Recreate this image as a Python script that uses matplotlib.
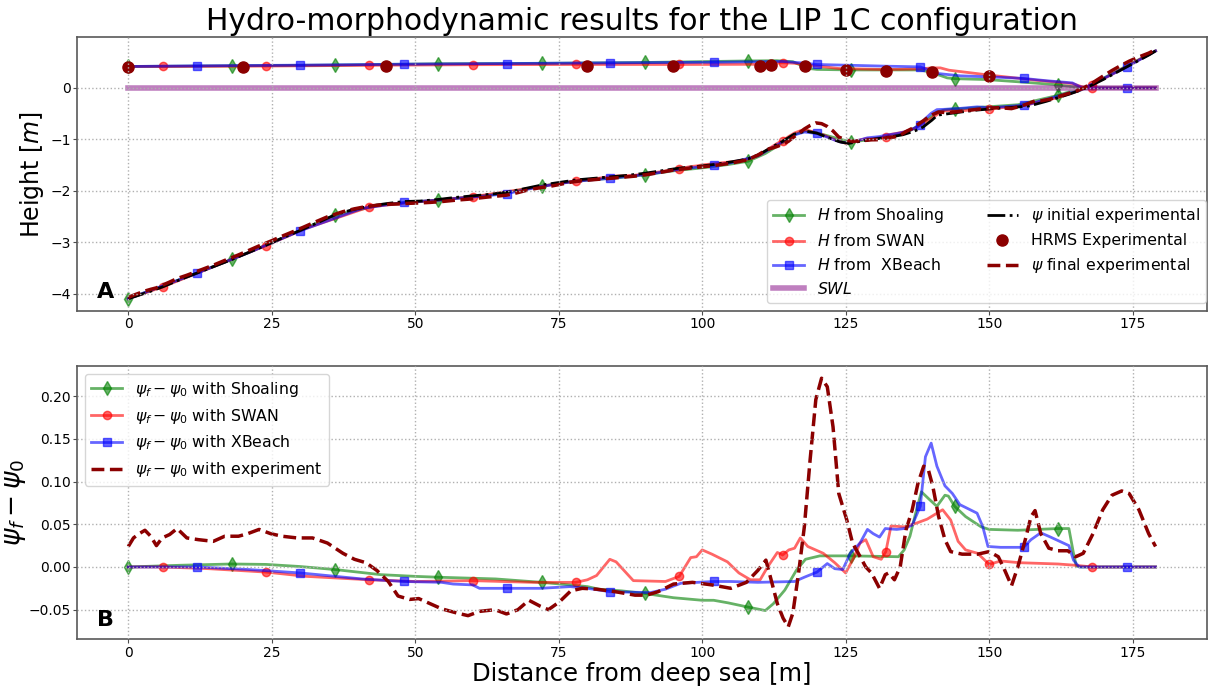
import numpy as np
import matplotlib
matplotlib.use("Agg")
import matplotlib.pyplot as plt

# ---------------- data ----------------
# initial experimental bed profile psi_0 (m)
x_psi0 = [0, 3, 6, 9, 12, 15, 18, 21, 24, 27, 30, 33, 36, 39, 42, 45, 48, 51, 54, 57, 60,
          63, 66, 69, 72, 75, 78, 81, 84, 87, 90, 93, 96, 99, 102, 105, 108, 110, 112, 114,
          116, 118, 120, 122, 124, 125.5, 127, 129, 131, 133, 135, 137, 138.5, 140, 141,
          143, 145, 148, 151, 154, 157, 160, 162, 164, 166, 168, 170, 172, 174, 176, 178, 179]
psi0 = [-4.10, -3.99, -3.87, -3.73, -3.60, -3.47, -3.34, -3.20, -3.06, -2.91, -2.77, -2.62,
        -2.47, -2.37, -2.30, -2.25, -2.21, -2.20, -2.17, -2.13, -2.10, -2.07, -2.03, -1.96,
        -1.89, -1.84, -1.79, -1.76, -1.73, -1.70, -1.66, -1.61, -1.56, -1.53, -1.49, -1.44,
        -1.38, -1.29, -1.16, -1.04, -0.90, -0.84, -0.88, -0.97, -1.05, -1.08, -1.05, -1.01,
        -0.98, -0.95, -0.91, -0.84, -0.76, -0.63, -0.53, -0.50, -0.47, -0.43, -0.40, -0.38,
        -0.35, -0.26, -0.19, -0.12, -0.04, 0.06, 0.17, 0.29, 0.41, 0.53, 0.65, 0.72]

# psi_f - psi_0 : experiment
x_exp = [0, 0.9, 1.9, 2.9, 3.9, 4.9, 5.9, 7.2, 8.5, 10.2, 12.2, 14.8, 16.8, 19.2, 20.8, 22.8,
         24.8, 26.8, 29.4, 32.1, 34.7, 37.4, 39.4, 41.4, 43.3, 45.3, 47.0, 49.0, 50.6, 52.6,
         54.6, 57.3, 59.2, 61.2, 63.9, 65.9, 67.9, 69.8, 71.8, 73.2, 75.1, 77.1, 79.1, 81.6,
         84.9, 88.3, 90.3, 92.3, 95.0, 98.3, 101.7, 105.0, 107.7, 109.7, 111.1, 111.7, 113.1,
         114.1, 115.0, 115.8, 116.8, 117.8, 118.8, 119.8, 120.8, 121.8, 122.8, 123.8, 125.2,
         126.2, 127.2, 128.5, 129.5, 130.9, 131.9, 132.5, 133.5, 134.5, 135.5, 136.6, 137.6,
         138.6, 139.4, 140.2, 141.2, 142.3, 143.3, 145.3, 148.0, 150.0, 151.6, 152.6, 153.9,
         155.0, 156.3, 157.3, 158.0, 159.0, 160.4, 162.0, 163.7, 165.1, 166.4, 168.1, 169.8,
         171.4, 173.1, 174.4, 176.1, 177.8, 179.0]
d_exp = [0.024, 0.034, 0.039, 0.043, 0.036, 0.025, 0.034, 0.038, 0.045, 0.034, 0.032, 0.030,
         0.036, 0.036, 0.039, 0.044, 0.039, 0.036, 0.034, 0.034, 0.028, 0.016, 0.009, 0.005,
         -0.004, -0.017, -0.034, -0.038, -0.037, -0.043, -0.049, -0.054, -0.057, -0.052,
         -0.050, -0.055, -0.050, -0.039, -0.046, -0.050, -0.041, -0.028, -0.025, -0.026,
         -0.029, -0.033, -0.033, -0.029, -0.020, -0.018, -0.021, -0.025, -0.018, -0.004,
         0.008, -0.007, -0.043, -0.060, -0.070, -0.054, -0.007, 0.047, 0.125, 0.196, 0.221,
         0.211, 0.164, 0.086, 0.055, 0.028, 0.016, 0.000, -0.007, -0.025, -0.009, -0.007,
         -0.015, 0.000, 0.043, 0.067, 0.098, 0.118, 0.114, 0.094, 0.059, 0.032, 0.018, 0.015,
         0.015, 0.018, 0.012, -0.002, -0.022, 0.000, 0.032, 0.059, 0.066, 0.039, 0.022,
         0.019, 0.019, 0.012, 0.016, 0.039, 0.067, 0.084, 0.089, 0.086, 0.067, 0.039, 0.024]

# psi_f - psi_0 : Shoaling
x_sho = [0, 9, 18, 24, 30, 36, 44, 50, 54, 64, 72, 77, 80, 82, 86, 90, 95, 100, 102, 104.5,
         108, 111, 112.4, 114.4, 116.4, 118, 120.5, 126, 134.2, 135.2, 136.2, 137.2, 138.2,
         139.6, 140.9, 142.3, 142.9, 144, 145.9, 148.6, 150, 155, 162, 163.9, 164.7, 165.2,
         166, 179]
d_sho = [0, 0.002, 0.0035, 0.003, 0.0005, -0.003, -0.009, -0.011, -0.012, -0.014, -0.018,
         -0.021, -0.023, -0.026, -0.028, -0.031, -0.036, -0.039, -0.039, -0.042, -0.047,
         -0.051, -0.043, -0.027, -0.004, 0.009, 0.013, 0.013, 0.012, 0.020, 0.036, 0.063,
         0.088, 0.079, 0.071, 0.084, 0.083, 0.071, 0.059, 0.047, 0.044, 0.043, 0.045, 0.045,
         0.016, 0.001, 0, 0]

# psi_f - psi_0 : SWAN
x_swan = [0, 6, 14, 24, 31, 42, 50, 60, 70.5, 78, 80, 81.6, 83.9, 85, 88, 93.6, 96, 98, 99,
          100, 101.7, 104.4, 106.4, 108.4, 110.1, 111.4, 113.1, 114, 115.1, 116.1, 117.1,
          118.4, 121.1, 123.1, 125, 126.5, 127.5, 128.5, 129.8, 131.2, 132, 132.9, 135.2,
          137.2, 139.2, 141.9, 143.3, 144.6, 145.9, 148, 150, 152, 155.3, 162, 165, 168, 179]
d_swan = [0, 0, -0.002, -0.006, -0.011, -0.015, -0.017, -0.016, -0.018, -0.018, -0.015,
          -0.010, 0.009, 0.006, -0.016, -0.017, -0.011, 0.011, 0.012, 0.020, 0.015, 0.006,
          -0.007, -0.015, -0.015, 0.000, 0.017, 0.014, 0.020, 0.022, 0.034, 0.024, 0.016,
          0.005, -0.007, 0.012, 0.028, 0.032, 0.012, 0.009, 0.018, 0.048, 0.047, 0.051,
          0.056, 0.067, 0.055, 0.030, 0.020, 0.016, 0.003, 0.007, 0.005, 0.0035, 0.002, 0, 0]

# psi_f - psi_0 : XBeach
x_xb = [0, 12, 21, 30, 40.7, 48, 54.6, 56.6, 60, 61.2, 66, 71.8, 77, 80, 84, 91, 93.6, 96.3,
        102, 105, 109.7, 116.1, 117.8, 120, 121.8, 123.1, 124.5, 125.8, 127.5, 128.8, 129.8,
        130.9, 131.9, 133.9, 135.2, 136.6, 138, 138.9, 139.9, 140.9, 142.3, 143.6, 144.9,
        147.9, 148.9, 149.8, 152, 156, 157.3, 159, 160.7, 163.9, 164.7, 165.7, 174, 179]
d_xb = [0, 0, -0.003, -0.007, -0.014, -0.017, -0.018, -0.020, -0.021, -0.025, -0.025,
        -0.025, -0.023, -0.025, -0.029, -0.030, -0.026, -0.019, -0.017, -0.017, -0.018,
        -0.017, -0.012, -0.006, 0.004, -0.002, -0.003, 0.016, 0.028, 0.044, 0.039, 0.035,
        0.045, 0.044, 0.045, 0.049, 0.071, 0.129, 0.145, 0.118, 0.095, 0.086, 0.073, 0.063,
        0.047, 0.024, 0.023, 0.023, 0.032, 0.040, 0.035, 0.025, 0.008, 0, 0, 0]

# wave heights H (m)
xH_sho = [0, 18, 36, 54, 72, 90, 108, 113, 115.8, 118.5, 120, 126, 138, 140, 142.7, 144,
          149.6, 155, 162, 166.2, 179]
H_sho = [0.417, 0.43, 0.445, 0.47, 0.478, 0.495, 0.525, 0.53, 0.51, 0.38, 0.36, 0.35,
         0.35, 0.30, 0.195, 0.18, 0.163, 0.12, 0.06, 0.0, 0.0]
xH_swan = [0, 6, 24, 42, 60, 78, 96, 110, 114, 116, 119, 123.8, 132, 138, 140, 141.5, 143,
           150, 158.2, 164.5, 166.8, 168, 179]
H_swan = [0.417, 0.417, 0.425, 0.44, 0.452, 0.456, 0.456, 0.46, 0.49, 0.48, 0.44, 0.378,
          0.358, 0.37, 0.39, 0.39, 0.345, 0.25, 0.15, 0.085, 0.0, 0.0, 0.0]
xH_xb = [0, 12, 30, 48, 66, 84, 102, 110, 114, 117, 120, 126, 132, 138, 141.1, 145, 150,
         156, 160, 164.5, 166.2, 174, 179]
H_xb = [0.417, 0.43, 0.443, 0.462, 0.475, 0.488, 0.50, 0.51, 0.515, 0.49, 0.456, 0.44,
        0.423, 0.41, 0.28, 0.235, 0.215, 0.185, 0.14, 0.098, 0.0, 0.0, 0.0]

# HRMS experimental
x_hrms = [0, 20, 44.9, 80, 95, 110, 112, 118, 125, 132, 140, 150]
H_hrms = [0.41, 0.41, 0.43, 0.436, 0.43, 0.42, 0.45, 0.43, 0.345, 0.33, 0.31, 0.23]

x_swl = [0, 179]
swl = [0, 0]

marks_sho = [0, 18, 36, 54, 72, 90, 108, 126, 144, 162]
marks_swan = [6, 24, 42, 60, 78, 96, 114, 132, 150, 168]
marks_xb = [12, 30, 48, 66, 84, 102, 120, 138, 156, 174]

# ---------------- plot ----------------
fig = plt.figure(figsize=(12.08, 6.91), dpi=100)
axA = fig.add_axes([0.0637, 0.5499, 0.9354, 0.3965])
axB = fig.add_axes([0.0637, 0.0748, 0.9354, 0.3960])

def mask(x, m):
    return list(np.isin(np.round(np.asarray(x, float), 3), m))

def bed(x, d):
    x = np.asarray(x, float)
    return np.interp(x, x_psi0, psi0) + np.asarray(d)

models = [
    ("g", "d", 7, x_sho, d_sho, xH_sho, H_sho, marks_sho, "Shoaling"),
    ("r", "o", 6, x_swan, d_swan, xH_swan, H_swan, marks_swan, "SWAN"),
    ("b", "s", 6, x_xb, d_xb, xH_xb, H_xb, marks_xb, " XBeach"),
]

handles = []
for c, m, ms, xd, dd, xh, hh, mk, name in models:
    h, = axA.plot(xh, hh, color=c, marker=m, ms=ms, lw=2, alpha=0.6,
                  markevery=mask(xh, mk), label=r"$H$ from " + name)
    axA.plot(xd, bed(xd, dd), color=c, marker=m, ms=ms, lw=2, alpha=0.6,
             markevery=mask(xd, mk))
    handles.append(h)

hs, = axA.plot(x_swl, swl, color="purple", lw=4, alpha=0.5, label=r"$SWL$")
handles.append(hs)
hi, = axA.plot(x_psi0, psi0, "k-.", lw=2, label=r"$\psi$ initial experimental")
hh_, = axA.plot(x_hrms, H_hrms, "o", color="darkred", ms=8, label="HRMS Experimental")
hf, = axA.plot(x_exp, bed(x_exp, d_exp), "--", color="darkred", lw=2.5,
               label=r"$\psi$ final experimental")
handles += [hi, hh_, hf]

axA.set_ylim(-4.34, 0.99)
axA.set_ylabel(r"Height [$m$]", fontsize=17)
axA.yaxis.set_label_coords(-0.027, 0.5)
axA.set_title("Hydro-morphodynamic results for the LIP 1C configuration",
              fontsize=21.5, pad=5)
axA.legend(handles=handles, ncol=2, loc="lower right", fontsize=11.3,
           columnspacing=2.7, bbox_to_anchor=(1.006, 0.0))
axA.text(0.0174, 0.047, "A", transform=axA.transAxes, fontsize=16, fontweight="bold")

# panel B
for c, m, ms, xd, dd, xh, hh, mk, name in models:
    axB.plot(xd, dd, color=c, marker=m, ms=ms, lw=2, alpha=0.6,
             markevery=mask(xd, mk),
             label=r"$\psi_f - \psi_0$ with " + name.strip())
axB.plot(x_exp, d_exp, "--", color="darkred", lw=2.5,
         label=r"$\psi_f - \psi_0$ with experiment")
axB.set_ylim(-0.0847, 0.2357)
axB.set_ylabel(r"$\psi_f - \psi_0$", fontsize=19)
axB.yaxis.set_label_coords(-0.043, 0.5)
axB.set_xlabel("Distance from deep sea [m]", fontsize=17.5, labelpad=2)
axB.legend(loc="upper left", fontsize=11.3)
axB.text(0.0174, 0.047, "B", transform=axB.transAxes, fontsize=16, fontweight="bold")

for ax in (axA, axB):
    ax.set_xlim(-8.95, 187.95)
    ax.set_xticks([0, 25, 50, 75, 100, 125, 150, 175])
    ax.grid(True, linestyle=":", color="#b0b0b0", lw=1)
    ax.set_axisbelow(False)
    ax.tick_params(labelsize=10, direction="out", length=3, pad=1.5, color="0.3")
    for s in ax.spines.values():
        s.set_color("0.35")
        s.set_linewidth(1.2)

fig.savefig("out.png", dpi=100)
